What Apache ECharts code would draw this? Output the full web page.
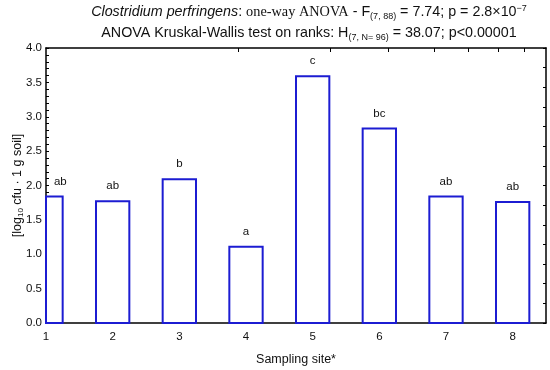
<!DOCTYPE html>
<html>
<head>
<meta charset="utf-8">
<script src="https://cdn.jsdelivr.net/npm/echarts@6/dist/echarts.min.js"></script>
<style>html,body{margin:0;padding:0;background:#fff}#c{width:550px;height:370px}</style>
</head>
<body>
<div id="c"></div>
<script>
var sites = [1, 2, 3, 4, 5, 6, 7, 8];
var meanLog = [1.84, 1.77, 2.09, 1.11, 3.59, 2.83, 1.84, 1.76];
var groupLetters = ['ab', 'ab', 'b', 'a', 'c', 'bc', 'ab', 'ab'];
var topTickValues = [3.89, 5.26, 6.14, 6.82, 7.34, 7.78, 8.17];
var barHalfWidth = 0.25;

var chart = echarts.init(document.getElementById('c'), null, {renderer: 'canvas'});
var FONT = 'Liberation Sans, Arial, sans-serif';
var BLUE = '#1c1cd2';

var barData = sites.map(function (s, i) { return [s, meanLog[i], i]; });

function renderBar(params, api) {
  var x = api.value(0), y = api.value(1), idx = api.value(2);
  var p0 = api.coord([x - barHalfWidth, y]);
  var p1 = api.coord([x + barHalfWidth, 0]);
  var rect = {x: p0[0], y: p0[1], width: p1[0] - p0[0], height: p1[1] - p0[1]};
  var cs = params.coordSys;
  var clipped = echarts.graphic.clipRectByRect(rect, {x: cs.x, y: cs.y, width: cs.width, height: cs.height});
  if (!clipped) return;
  var cx = clipped.x + clipped.width / 2;
  if (idx === 0) cx += 6;
  return {
    type: 'group',
    children: [{
      type: 'rect',
      shape: clipped,
      style: {fill: '#fff', stroke: BLUE, lineWidth: 2}
    }, {
      type: 'text',
      x: cx, y: p0[1] - 9,
      style: {text: groupLetters[idx], fontFamily: FONT, fontSize: 11.5, fill: '#111',
        align: 'center', verticalAlign: 'bottom'}
    }]
  };
}

var TS = 14.3;
var option = {
  animation: false,
  backgroundColor: '#fff',
  title: [{
    left: 304, top: -1, textAlign: 'center',
    text: '{i|Clostridium perfringens}{n|: }{s|one-way ANOVA}{n| - F}{sub|(7, 88)}{n| = 7.74; p = 2.8×10}{sup|−7}',
    textStyle: {
      fontWeight: 'normal',
      rich: {
        i: {fontFamily: FONT, fontSize: TS, fontStyle: 'italic', fontWeight: 'normal', color: '#111'},
        n: {fontFamily: FONT, fontSize: TS, fontWeight: 'normal', color: '#111'},
        s: {fontFamily: 'Liberation Serif, Times New Roman, serif', fontSize: TS, fontWeight: 'normal', color: '#111'},
        sub: {fontFamily: FONT, fontSize: 9, fontWeight: 'normal', color: '#111', padding: [8, 0, 0, 0]},
        sup: {fontFamily: FONT, fontSize: 9, fontWeight: 'normal', color: '#111', padding: [0, 0, 8, 0]}
      }
    }
  }, {
    left: 304, top: 20, textAlign: 'center',
    text: '{n|ANOVA Kruskal-Wallis test on ranks: H}{sub|(7, N= 96)}{n| = 38.07; p<0.00001}',
    textStyle: {
      fontWeight: 'normal',
      rich: {
        n: {fontFamily: FONT, fontSize: TS, fontWeight: 'normal', color: '#111'},
        sub: {fontFamily: FONT, fontSize: 9, fontWeight: 'normal', color: '#111', padding: [8, 0, 0, 0]}
      }
    }
  }],
  grid: {left: 46, right: 4, top: 48, bottom: 47, containLabel: false, outerBoundsMode: 'none'},
  xAxis: [{
    type: 'value', min: 1, max: 8.5, interval: 1, position: 'bottom',
    name: 'Sampling site*', nameLocation: 'middle', nameGap: 30, nameMoveOverlap: false,
    nameTextStyle: {fontFamily: FONT, fontSize: 12.5, color: '#111'},
    axisLine: {show: true, onZero: false, lineStyle: {color: '#000', width: 1.5}},
    axisTick: {show: true, inside: true, length: 4, lineStyle: {color: '#000'}},
    axisLabel: {fontFamily: FONT, fontSize: 11.5, color: '#111', margin: 8, showMaxLabel: false,
      formatter: function (v) { return Number.isInteger(v) ? String(v) : ''; }},
    splitLine: {show: false}
  }, {
    type: 'value', min: 1, max: 8.5, position: 'top',
    axisLine: {show: true, onZero: false, lineStyle: {color: '#000', width: 1.5}},
    axisTick: {show: true, inside: true, length: 4, customValues: topTickValues, lineStyle: {color: '#000'}},
    axisLabel: {show: false},
    splitLine: {show: false}
  }],
  yAxis: [{
    type: 'value', min: 0, max: 4, interval: 0.5, position: 'left',
    name: '{n|[log}{sub|10}{n| cfu · 1 g soil]}', nameLocation: 'middle', nameGap: 21, nameRotate: 90,
    nameMoveOverlap: false,
    nameTextStyle: {
      rich: {
        n: {fontFamily: FONT, fontSize: 12.5, color: '#111'},
        sub: {fontFamily: FONT, fontSize: 8, color: '#111', padding: [6, 0, 0, 0]}
      }
    },
    axisLine: {show: true, onZero: false, lineStyle: {color: '#000', width: 1.5}},
    axisTick: {show: true, inside: true, length: 3, lineStyle: {color: '#000'}},
    minorTick: {show: true, splitNumber: 5, length: 3, lineStyle: {color: '#000'}},
    axisLabel: {fontFamily: FONT, fontSize: 11.5, color: '#111', margin: 4,
      formatter: function (v) { return v.toFixed(1); }},
    splitLine: {show: false},
    minorSplitLine: {show: false}
  }, {
    type: 'value', min: 0, max: 4, interval: 4 / 14, position: 'right',
    axisLine: {show: true, onZero: false, lineStyle: {color: '#000', width: 1.5}},
    axisTick: {show: true, inside: true, length: 3, lineStyle: {color: '#000'}},
    axisLabel: {show: false},
    splitLine: {show: false}
  }],
  series: [{
    type: 'custom', xAxisIndex: 0, yAxisIndex: 0,
    renderItem: renderBar,
    encode: {x: 0, y: 1},
    data: barData
  }]
};
chart.setOption(option);
</script>
</body>
</html>
